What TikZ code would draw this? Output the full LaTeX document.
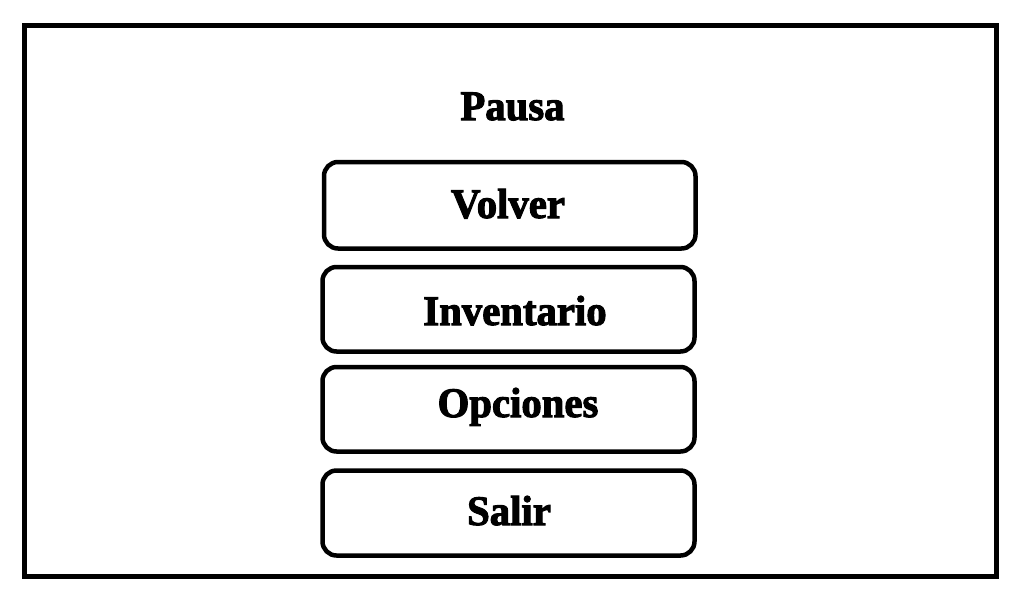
\documentclass[tikz,border=0pt]{standalone}
\usepackage{fontspec}
\newfontfamily\uifont[FakeBold=2.5,FakeStretch=0.97]{Liberation Serif}
\begin{document}
\begin{tikzpicture}[x=1pt,y=-1pt,
  frame/.style={draw=black,line width=5pt},
  btn/.style={draw=black,line width=4.5pt,rounded corners=14pt},
  lbl/.style={font=\uifont\bfseries\fontsize{42}{46}\selectfont,anchor=base,inner sep=0pt}]
\useasboundingbox (0,0) rectangle (1019,598);
\fill[white] (0,0) rectangle (1019,598);
\draw[frame] (24.5,25.5) rectangle (996.5,576.5);
\node[lbl] (title) at (512.5,120) {Pausa};
\draw[btn] (324,162) rectangle (695.5,248.5);
\node[lbl] (volver) at (508,218) {Volver};
\draw[btn] (322.5,267) rectangle (694.5,351.5);
\node[lbl] (inventario) at (515,325) {Inventario};
\draw[btn] (322.5,367) rectangle (694.5,451.5);
\node[lbl] (opciones) at (518,417) {Opciones};
\draw[btn] (322.5,470.5) rectangle (694.5,555.5);
\node[lbl] (salir) at (509,525) {Salir};
\end{tikzpicture}
\end{document}
